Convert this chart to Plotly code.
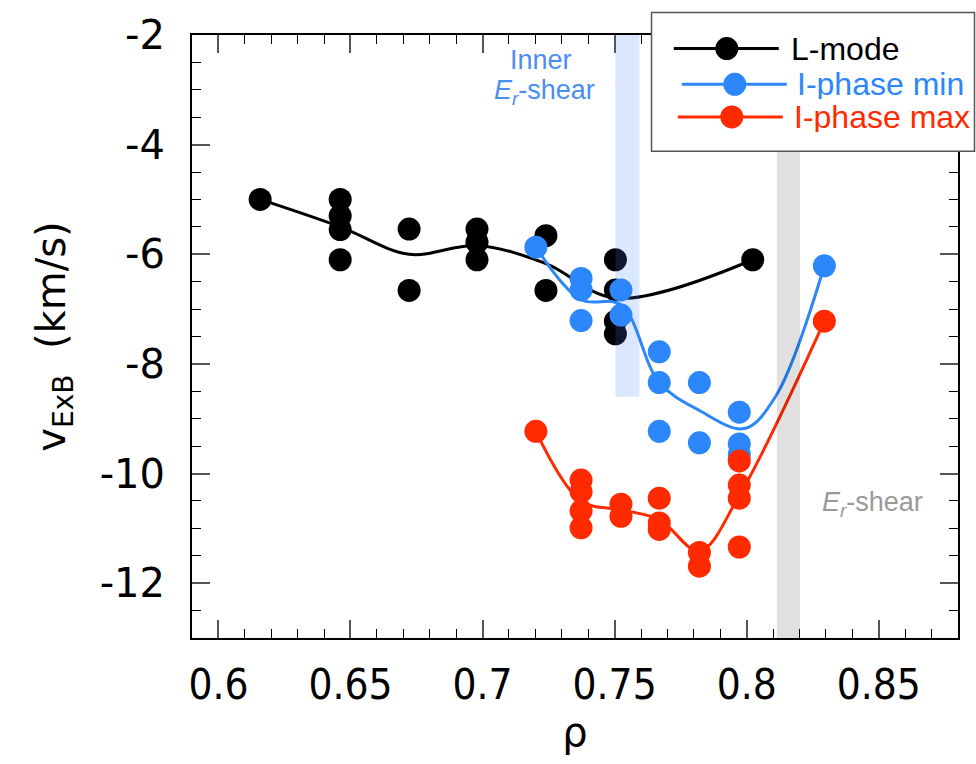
import plotly.graph_objects as go

# --- measured points: normalised radius rho and v_ExB (km/s) ---
lmode_rho = [0.6158, 0.6461, 0.6461, 0.6461, 0.6461, 0.6722, 0.6722,
             0.6979, 0.6979, 0.6979, 0.7240, 0.7240,
             0.7503, 0.7503, 0.7503, 0.7503, 0.8023]
lmode_v = [-5.00, -5.00, -5.30, -5.55, -6.10, -5.54, -6.66,
           -5.54, -5.78, -6.10, -5.66, -6.66,
           -6.10, -6.65, -7.22, -7.45, -6.10]

imin_rho = [0.7202, 0.7373, 0.7373, 0.7373, 0.7524, 0.7524,
            0.7669, 0.7669, 0.7669, 0.7821, 0.7821,
            0.7972, 0.7972, 0.7972, 0.8294]
imin_v = [-5.87, -6.44, -6.65, -7.21, -6.65, -7.11,
          -7.78, -8.34, -9.23, -8.34, -9.44,
          -8.88, -9.46, -9.65, -6.21]

imax_rho = [0.7202, 0.7373, 0.7373, 0.7373, 0.7373, 0.7524, 0.7524,
            0.7669, 0.7669, 0.7669, 0.7821, 0.7821,
            0.7972, 0.7972, 0.7972, 0.7972, 0.8294]
imax_v = [-9.23, -10.12, -10.33, -10.68, -10.99, -10.56, -10.78,
          -10.45, -10.90, -11.02, -11.44, -11.69,
          -9.77, -10.21, -10.45, -11.34, -7.22]

# --- smoothed profile fits (knots) ---
lmode_fit_rho = [0.6158, 0.6461, 0.6722, 0.6979, 0.7240, 0.7503, 0.8023]
lmode_fit_v = [-5.00, -5.50, -6.00, -5.84, -6.17, -6.80, -6.10]

imin_fit_rho = [0.7202, 0.7373, 0.7524, 0.7669, 0.7821, 0.7991, 0.8111, 0.8294]
imin_fit_v = [-5.87, -6.83, -6.92, -8.34, -8.85, -9.18, -8.58, -6.21]

imax_fit_rho = [0.7202, 0.7373, 0.7524, 0.7669, 0.7821, 0.7972, 0.8294]
imax_fit_v = [-9.23, -10.50, -10.66, -10.84, -11.41, -10.40, -7.22]

# --- shear-layer bands (rho ranges) ---
inner_band_rho = [0.7503, 0.7594]
inner_band_v = [-8.6, -2.0]
outer_band_rho = [0.8114, 0.8202]

# --- axes ---
x_ticks = [0.6, 0.65, 0.7, 0.75, 0.8, 0.85]
x_ticktext = ["0.6", "0.65", "0.7", "0.75", "0.8", "0.85"]
y_ticks = [-12, -10, -8, -6, -4, -2]
y_ticktext = ["-12", "-10", "-8", "-6", "-4", "-2"]

series_names = ["L-mode", "I-phase min", "I-phase max"]
BLACK = "#000000"
BLUE = "#2b87fa"
RED = "#ff2a00"
colors = [BLACK, BLUE, RED]

MS = 23
LW = 3

fig = go.Figure()

groups = [
    (lmode_fit_rho, lmode_fit_v, lmode_rho, lmode_v),
    (imin_fit_rho, imin_fit_v, imin_rho, imin_v),
    (imax_fit_rho, imax_fit_v, imax_rho, imax_v),
]
for name, col, (fx, fy, px, py) in zip(series_names, colors, groups):
    fig.add_trace(go.Scatter(
        x=fx, y=fy, mode="lines", name=name + " fit",
        line=dict(color=col, width=LW, shape="spline", smoothing=1.0),
        showlegend=False, hoverinfo="skip"))
    fig.add_trace(go.Scatter(
        x=px, y=py, mode="markers", name=name,
        marker=dict(color=col, size=MS, line=dict(width=0)),
        showlegend=False))

# paper-coordinate helpers for the hand-built legend
L, R, T, B = 192, 958.3, 29.3, 637.7
def px2x(p):
    return (p - L) / (R - L)
def py2y(p):
    return (B - p) / (B - T)

shapes = [
    # inner Er-shear band
    dict(type="rect", xref="x", yref="y",
         x0=inner_band_rho[0], x1=inner_band_rho[1],
         y0=inner_band_v[0], y1=inner_band_v[1],
         fillcolor="rgba(60,130,255,0.19)", line=dict(width=0), layer="above"),
    # Er-shear band
    dict(type="rect", xref="x", yref="y",
         x0=outer_band_rho[0], x1=outer_band_rho[1], y0=-13, y1=-2,
         fillcolor="rgba(0,0,0,0.12)", line=dict(width=0), layer="above"),
    # legend frame
    dict(type="rect", xref="paper", yref="paper",
         x0=px2x(651.7), x1=px2x(974.8), y0=py2y(146.7), y1=py2y(6.7),
         fillcolor="white", line=dict(color="#555555", width=1.5), layer="above"),
]

legend_rows = [
    # (line start, line end, marker x, row y, text x)
    (674, 779, 727, 43, 790),
    (682, 787, 735, 79, 796),
    (678, 783, 732, 112, 793),
]
annotations = []
for name, col, (lx0, lx1, mx, ry, tx) in zip(series_names, colors, legend_rows):
    shapes.append(dict(type="line", xref="paper", yref="paper",
                       x0=px2x(lx0), x1=px2x(lx1), y0=py2y(ry), y1=py2y(ry),
                       line=dict(color=col, width=LW), layer="above"))
    shapes.append(dict(type="circle", xref="paper", yref="paper",
                       xsizemode="pixel", ysizemode="pixel",
                       xanchor=px2x(mx), yanchor=py2y(ry),
                       x0=-MS / 2, x1=MS / 2, y0=-MS / 2, y1=MS / 2,
                       fillcolor=col, line=dict(width=0), layer="above"))
    annotations.append(dict(xref="paper", yref="paper", x=px2x(tx), y=py2y(ry),
                            xanchor="left", yanchor="middle", showarrow=False,
                            text=name, height=30, borderpad=0,
                            font=dict(family="Liberation Sans, Arial", size=32, color=col)))

annotations += [
    dict(xref="paper", yref="paper", x=px2x(541), y=py2y(55),
         xanchor="center", yanchor="middle", showarrow=False, text="Inner",
         font=dict(family="Liberation Sans, Arial", size=27, color="#4b8ef3")),
    dict(xref="paper", yref="paper", x=px2x(544.5), y=py2y(87),
         xanchor="center", yanchor="middle", showarrow=False,
         text="<i>E</i><sub><i>r</i></sub>-shear",
         font=dict(family="Liberation Sans, Arial", size=27, color="#4b8ef3")),
    dict(xref="paper", yref="paper", x=px2x(872.5), y=py2y(503),
         xanchor="center", yanchor="middle", showarrow=False,
         text="<i>E</i><sub><i>r</i></sub>-shear",
         font=dict(family="Liberation Sans, Arial", size=27, color="#9a9a9a")),
]

axis_common = dict(
    showline=True, linecolor="black", linewidth=2, mirror="ticks",
    ticks="inside", ticklen=18, tickwidth=1.5, tickcolor="#555555",
    showgrid=False, zeroline=False,
)

fig.update_layout(
    width=976, height=764,
    margin=dict(l=192, r=18, t=29, b=126),
    plot_bgcolor="white", paper_bgcolor="white",
    shapes=shapes, annotations=annotations,
    xaxis=dict(
        range=[0.59, 0.88], tickvals=x_ticks, ticktext=x_ticktext,
        tickfont=dict(family="DejaVu Sans Condensed", size=42, color="black"),
        ticklabelstandoff=9,
        minor=dict(dtick=0.01, tick0=0.6, ticks="inside", ticklen=9,
                   tickwidth=1.2, tickcolor="black"),
        title=dict(text="ρ", standoff=5,
                   font=dict(family="DejaVu Sans", size=40, color="black")),
        **axis_common),
    yaxis=dict(
        range=[-13, -2], tickvals=y_ticks, ticktext=y_ticktext,
        tickfont=dict(family="DejaVu Sans", size=40, color="black"),
        ticklabelstandoff=17,
        minor=dict(dtick=0.5, tick0=0, ticks="inside", ticklen=9,
                   tickwidth=1.2, tickcolor="black"),
        title=dict(text="v<sub>ExB</sub>&nbsp;&nbsp;(km/s)", standoff=22,
                   font=dict(family="DejaVu Sans", size=40, color="black")),
        **axis_common),
)

fig.write_html("out.html")
